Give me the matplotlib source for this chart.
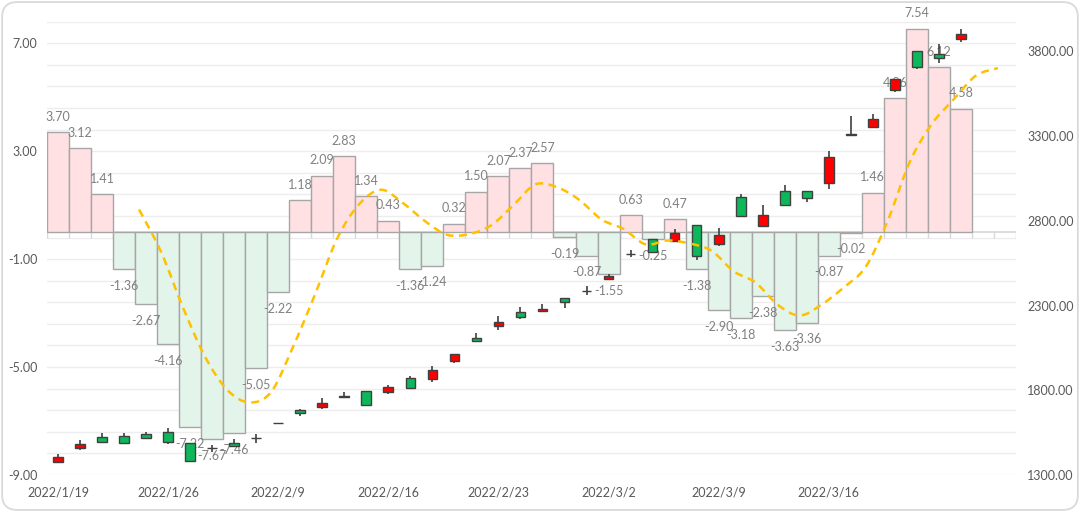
import numpy as np
import matplotlib; matplotlib.use("Agg")
import matplotlib.pyplot as plt
from matplotlib.patches import FancyBboxPatch, PathPatch
from matplotlib.path import Path

plt.rcParams['font.family'] = ['Lato', 'DejaVu Sans']

# 交易日（最后两格为空类别）
dates = ["2022/1/19","2022/1/20","2022/1/21","2022/1/24","2022/1/25","2022/1/26","2022/1/27","2022/1/28",
         "2022/2/7","2022/2/8","2022/2/9","2022/2/10","2022/2/11","2022/2/14","2022/2/15","2022/2/16",
         "2022/2/17","2022/2/18","2022/2/21","2022/2/22","2022/2/23","2022/2/24","2022/2/25","2022/2/28",
         "2022/3/1","2022/3/2","2022/3/3","2022/3/4","2022/3/7","2022/3/8","2022/3/9","2022/3/10",
         "2022/3/11","2022/3/14","2022/3/15","2022/3/16","2022/3/17","2022/3/18","2022/3/21","2022/3/22",
         "2022/3/23","2022/3/24"]
n_empty = 2
label_idx = list(range(0, 40, 5))

change = [3.70,3.12,1.41,-1.36,-2.67,-4.16,-7.22,-7.67,-7.46,-5.05,-2.22,1.18,2.09,2.83,1.34,0.43,
          -1.36,-1.24,0.32,1.50,2.07,2.37,2.57,-0.19,-0.87,-1.55,0.63,-0.25,0.47,-1.38,-2.90,-3.18,
          -2.38,-3.63,-3.36,-0.87,-0.02,1.46,4.96,7.54,6.12,4.58]

opens  = [1375,1457,1526,1532,1542,1555,1487,1457,1490,1516,1607,1683,1703,1764,1797,1791,1874,1864,1974,2110,
          2180,2263,2267,2345,2385,2454,2607,2690,2680,2774,2666,2941,2770,2976,2976,3023,3310,3354,3570,3800,
          3786,3875]
highs  = [1424,1506,1546,1549,1552,1579,1489,1477,1512,1540,1609,1691,1756,1791,1798,1831,1884,1943,2012,2135,
          2237,2289,2312,2345,2414,2489,2627,2690,2749,2774,2758,2957,2892,3010,2976,3210,3417,3428,3639,3800,
          3841,3934]
lows   = [1369,1447,1490,1487,1516,1483,1382,1437,1467,1490,1603,1650,1687,1760,1713,1776,1807,1850,1962,2090,
          2155,2220,2267,2283,2361,2454,2587,2611,2676,2568,2650,2829,2770,2896,2911,2985,3304,3354,3561,3698,
          3733,3855]
closes = [1404,1483,1495,1491,1520,1493,1383,1457,1471,1516,1604,1664,1726,1762,1714,1817,1811,1919,2012,2092,
          2204,2232,2279,2322,2385,2475,2607,2615,2729,2591,2719,2829,2837,2896,2937,3177,3308,3403,3639,3707,
          3760,3904]

# 5日均线（从第5个交易日开始）
ma_start = 4
ma5 = [0.84,-0.73,-2.80,-4.62,-5.84,-6.31,-5.92,-4.24,-2.29,-0.23,1.04,1.57,1.07,0.40,-0.10,-0.07,0.26,
       1.00,1.77,1.66,1.19,0.47,0.12,-0.45,-0.31,-0.42,-0.69,-1.45,-1.87,-2.69,-3.09,-2.68,-2.05,-1.28,
       0.43,2.61,4.01,4.93,5.80,6.08]

PINK, GREEN_BAR, EDGE = "#FFE1E4", "#E3F4EA", "#A6A6A6"
RED, GREEN = "#FF0000", "#0CB85A"
TXT, LBL = "#595959", "#808080"

n_cat = len(dates) + n_empty
x = np.arange(len(dates))

fig = plt.figure(figsize=(10.8, 5.12), dpi=100)
fig.patches.append(FancyBboxPatch((0.002, 0.004), 0.996, 0.992, boxstyle="round,pad=0,rounding_size=0.014",
                                  mutation_aspect=1080/512, transform=fig.transFigure,
                                  facecolor="white", edgecolor="#D9D9D9", lw=1.3, zorder=-10))
ax = fig.add_axes([0.0435, 0.0723, 0.8972, 0.8853])
ax.patch.set_visible(False)

# 网格线
for g in np.arange(-9, 7.81, 0.8):
    ax.axhline(g, color="#EDEDED", lw=1.0, zorder=0)

ax.bar(x, change, width=1.0, color=[PINK if v >= 0 else GREEN_BAR for v in change],
       edgecolor=EDGE, lw=1.0, zorder=2)
for xi, v in zip(x, change):
    ax.annotate(f"{v:.2f}", (xi, v), xytext=(0, 11 if v >= 0 else -12), textcoords="offset points",
                ha="center", va="center", fontsize=9, color=LBL, zorder=3)

# 横轴线及刻度
ax.axhline(0, color="#D9D9D9", lw=1.3, zorder=1)
ax.vlines(np.arange(n_cat + 1) - 0.5, -0.22, 0, color="#D9D9D9", lw=1.0, zorder=1)

ax.set_xlim(-0.5, n_cat - 0.5)
ax.set_ylim(-9, 7.8)
ax.set_yticks([-9, -5, -1, 3, 7])
ax.set_yticklabels([f"{t:.2f}" for t in [-9, -5, -1, 3, 7]])
ax.set_xticks(label_idx)
ax.set_xticklabels([dates[i] for i in label_idx])
ax.tick_params(axis="y", length=0, pad=7, labelsize=9, labelcolor=TXT)
ax.tick_params(axis="x", length=0, pad=8, labelsize=9, labelcolor=TXT)
for s in ax.spines.values():
    s.set_visible(False)

# K线（右轴）
ax2 = ax.twinx()
ax2.vlines(x, lows, highs, color="#404040", lw=1.2, zorder=2)
body_col = [RED if c > o else (GREEN if c < o else "#404040") for o, c in zip(opens, closes)]
ax2.bar(x, [abs(c - o) for o, c in zip(opens, closes)], bottom=[min(o, c) for o, c in zip(opens, closes)],
        width=0.44, color=body_col, edgecolor="#404040", lw=1.0, zorder=3)
ax2.set_ylim(1300, 3975)
ax2.set_yticks([1300, 1800, 2300, 2800, 3300, 3800])
ax2.set_yticklabels([f"{t:.2f}" for t in [1300, 1800, 2300, 2800, 3300, 3800]])
ax2.tick_params(axis="y", length=0, pad=8, labelsize=9, labelcolor=TXT)
for s in ax2.spines.values():
    s.set_visible(False)

# 平滑均线
ax3 = ax.twinx()
ax3.set_ylim(ax.get_ylim())
ax3.axis("off")
line_shift = -0.32
px = np.arange(ma_start, ma_start + len(ma5)) + line_shift
py = np.array(ma5)
verts, codes = [(px[0], py[0])], [Path.MOVETO]
for i in range(len(px) - 1):
    p0 = np.array([px[max(i - 1, 0)], py[max(i - 1, 0)]])
    p1 = np.array([px[i], py[i]])
    p2 = np.array([px[i + 1], py[i + 1]])
    p3 = np.array([px[min(i + 2, len(px) - 1)], py[min(i + 2, len(px) - 1)]])
    verts += [tuple(p1 + (p2 - p0) / 6), tuple(p2 - (p3 - p1) / 6), tuple(p2)]
    codes += [Path.CURVE4] * 3
ax3.add_patch(PathPatch(Path(verts, codes), facecolor="none", edgecolor="#FFC000", lw=1.8,
                        linestyle=(0, (3.2, 2.2)), zorder=5))

fig.savefig("out.png", dpi=100)
